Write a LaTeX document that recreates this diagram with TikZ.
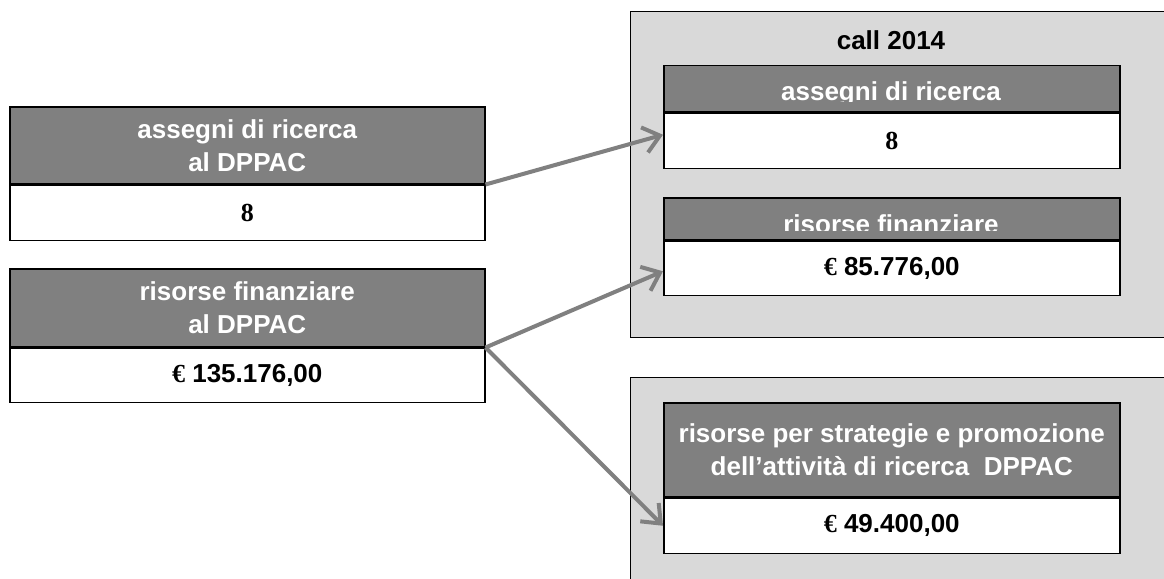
\documentclass[tikz,border=0pt]{standalone}
\usepackage{fontspec}
\setmainfont{Liberation Sans}
\newfontfamily\eurofont{Liberation Serif}
\usetikzlibrary{positioning,arrows.meta}

\definecolor{headgray}{RGB}{128,128,128}
\definecolor{panelgray}{RGB}{217,217,217}
\definecolor{flowgray}{RGB}{128,128,128}

\tikzset{
  panel/.style={draw=black, line width=1pt, fill=panelgray},
  headbox/.style={draw=black, line width=1.5pt, fill=headgray, text=white,
    font=\fontsize{26}{33}\selectfont\bfseries, align=center,
    inner sep=0pt, anchor=north west, minimum width=#1},
  valbox/.style={draw=black, line width=1.5pt, fill=white,
    font=\fontsize{26}{33}\selectfont\bfseries, inner sep=0pt},
  flow/.style={draw=flowgray, line width=4pt,
    -{Straight Barb[length=16pt,width=26pt,line width=4pt]}}
}

\begin{document}
\begin{tikzpicture}[x=1pt,y=-1pt]
	\clip (0,0) rectangle (1164,578);
	\fill[white] (0,0) rectangle (1164,578);

	% left side
	\node[headbox=475pt, minimum height=77pt] (hdrA) at (9,106) {assegni di ricerca\\al DPPAC};
	\node[valbox, minimum width=475pt, minimum height=55pt, below=0pt of hdrA] (valA) {{\eurofont\bfseries 8}};
	\node[headbox=475pt, minimum height=78pt] (hdrB) at (9,268) {risorse finanziare\\al DPPAC};
	\node[valbox, minimum width=475pt, minimum height=54pt, below=0pt of hdrB] (valB) {{\eurofont €} 135.176,00};

	% call 2014
	\draw[panel] (630,12) rectangle (1180,337);
	\node[font=\fontsize{26}{33}\selectfont\bfseries] (call) at (891,40) {call 2014};
	\node[headbox=456pt, minimum height=46pt] (hdrC) at (663,65) {};
	\begin{scope}
		\clip (663,65) rectangle (1119,101.5);
		\node[anchor=base, text=white, font=\fontsize{26}{33}\selectfont\bfseries, inner sep=0pt] at (891,100.5) {assegni di ricerca};
	\end{scope}
	\node[valbox, minimum width=456pt, minimum height=55pt, below=0pt of hdrC] (valC) {{\eurofont\bfseries 8}};
	\node[headbox=456pt, minimum height=42pt] (hdrD) at (663,197) {};
	\begin{scope}
		\clip (663,197) rectangle (1119,230);
		\node[anchor=base, text=white, font=\fontsize{26}{33}\selectfont\bfseries, inner sep=0pt] at (891,233.5) {risorse finanziare};
	\end{scope}
	\node[valbox, minimum width=456pt, minimum height=54pt, below=0pt of hdrD] (valD) {{\eurofont €} 85.776,00};

	% strategie
	\draw[panel] (630,377) rectangle (1180,600);
	\node[headbox=456pt, minimum height=94pt] (hdrE) at (663,402) {risorse per strategie e promozione\\dell’attività di ricerca\ \ DPPAC};
	\node[valbox, minimum width=456pt, minimum height=55pt, below=0pt of hdrE] (valE) {{\eurofont €} 49.400,00};

	% arrows
	\draw[flow] (hdrA.south east) -- ([yshift=6pt]valC.west);
	\draw[flow] (hdrB.south east) -- ([yshift=-3pt]valD.west);
	\draw[flow] (hdrB.south east) -- (valE.west);
\end{tikzpicture}
\end{document}
